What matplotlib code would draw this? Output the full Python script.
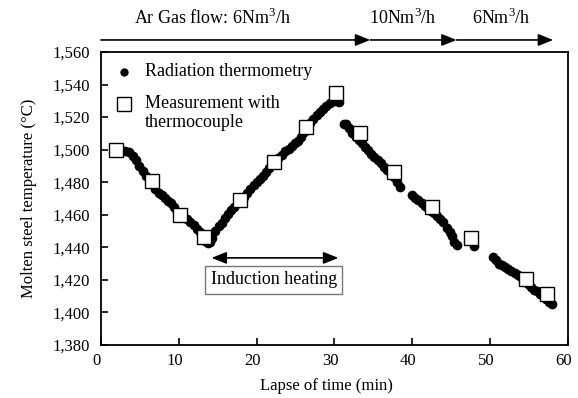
import matplotlib
matplotlib.use("Agg")
import matplotlib.pyplot as plt
from matplotlib.ticker import FuncFormatter
from matplotlib.transforms import ScaledTranslation

plt.rcParams['font.family'] = ['Liberation Serif', 'DejaVu Serif']
plt.rcParams['mathtext.fontset'] = 'custom'
plt.rcParams['mathtext.rm'] = 'Liberation Serif'
plt.rcParams['font.size'] = 12

# radiation thermometry (min, degC)
rad_time = [2.6, 3.1, 3.6, 4.1, 4.5, 4.9, 5.4, 5.8, 6.2, 6.6, 7.0, 7.4, 7.8, 8.2,
            8.6, 9.0, 9.4, 9.8, 10.2, 10.6, 11.0, 11.5, 11.9, 12.3, 12.7, 13.1,
            13.4, 13.7,
            14.0, 14.3, 14.7, 15.1, 15.5, 15.9, 16.3, 16.7, 17.1, 17.6, 18.0, 18.4,
            18.8, 19.2, 19.6, 20.0, 20.4, 20.8, 21.2, 21.6, 22.0, 22.4, 22.8, 23.3,
            23.7, 24.1, 24.5, 24.9, 25.3, 25.7, 26.1, 26.5, 26.9, 27.3, 27.7, 28.1,
            28.5, 28.9, 29.4, 29.8, 30.2, 30.6,
            31.2, 31.5, 31.9, 32.3, 32.7, 33.1, 33.5, 33.9, 34.3, 34.7, 35.1, 35.6,
            36.0, 36.4, 36.8, 37.2, 37.6, 38.0, 38.4,
            39.9, 40.3, 40.7, 41.2, 41.6, 42.0, 42.4, 42.8, 43.2, 43.6, 44.0, 44.4,
            44.8, 45.1, 45.4, 45.7, 47.9,
            50.4, 50.7, 51.1, 51.5, 51.9, 52.3, 52.7, 53.2, 53.6, 54.0, 54.4, 54.8,
            55.2, 55.6, 56.0, 56.4, 56.8, 57.2, 57.6, 58.0]
rad_temp = [1499, 1499, 1498.5, 1496, 1493.5, 1490, 1487, 1484, 1482, 1479, 1476,
            1473.5, 1472, 1470, 1468.5, 1467, 1465, 1462, 1460, 1459, 1457.5, 1455.5,
            1453.5, 1451.5, 1449.5, 1447, 1444, 1442.5,
            1443, 1446, 1450, 1453, 1455, 1458, 1460.5, 1463, 1465, 1467, 1469, 1471,
            1473.5, 1476, 1478, 1480, 1482, 1484, 1486, 1488.5, 1491, 1493, 1495,
            1497, 1499, 1500.5, 1502, 1504, 1505.5, 1508, 1511, 1514, 1516.5, 1519,
            1521, 1523, 1525, 1527, 1528.5, 1530, 1530, 1529,
            1516, 1515.5, 1513, 1510.5, 1508, 1506, 1504, 1501.5, 1499.5, 1497.5,
            1495.5, 1493.5, 1491.5, 1489.5, 1487.5, 1485.5, 1483, 1480, 1477,
            1472, 1470.5, 1469, 1467, 1465.5, 1464, 1462.5, 1461, 1459.5, 1457.5,
            1455.5, 1452, 1449.5, 1447, 1443.5, 1441.5, 1441,
            1434, 1432, 1430, 1429, 1428, 1426.5, 1425.5, 1424.5, 1423, 1421.5,
            1419.5, 1417.5, 1415.5, 1414, 1413, 1411.5, 1410, 1408.5, 1406.5, 1405]

# thermocouple measurements
tc_time = [1.9, 6.5, 10.1, 13.2, 17.9, 22.2, 26.3, 30.2, 33.3, 37.6, 42.5, 47.5, 54.6, 57.3]
tc_temp = [1500, 1481, 1460, 1446.5, 1469, 1492.5, 1514, 1535, 1510, 1486, 1465, 1446, 1420.5, 1411.5]

# gas flow phases
flow_end = [34.6, 45.7, 58.1]
flow_labels = ['Ar Gas flow: 6Nm$^3$/h', '10Nm$^3$/h', '6Nm$^3$/h']
flow_label_x = [14.3, 38.8, 51.4]

heat_start, heat_end = 14.2, 30.5

fig = plt.figure(figsize=(5.78, 3.98), dpi=100)
ax = fig.add_axes([0.1747, 0.1332, 0.808, 0.7362])

ax.plot(rad_time, rad_temp, 'o', color='black', markersize=7, markeredgewidth=0, zorder=2)
ax.plot(tc_time, tc_temp, 's', markerfacecolor='white', markeredgecolor='black',
        markersize=9.5, markeredgewidth=1.0, zorder=3)

ax.set_xlim(0, 60)
ax.set_ylim(1380, 1560)
ax.set_xticks(range(0, 61, 10))
ax.set_yticks(range(1380, 1561, 20))
ax.yaxis.set_major_formatter(FuncFormatter(lambda v, p: f'{int(v):,}'))
ax.tick_params(direction='in', length=5, width=1.2, labelsize=12)
ax.tick_params(axis='y', pad=8)
ax.tick_params(axis='x', pad=6)
for s in ax.spines.values():
    s.set_linewidth(1.3)
# x tick labels sit a little left of their ticks in the original
shift = ScaledTranslation(-4 / 100, 0, fig.dpi_scale_trans)
for lbl in ax.get_xticklabels():
    lbl.set_transform(lbl.get_transform() + shift)

ax.set_xlabel('Lapse of time (min)', fontsize=12, labelpad=6)
ax.xaxis.label.set_x(0.483)
ax.set_ylabel('Molten steel temperature (°C)', fontsize=12, labelpad=11)

# legend drawn by hand so the square sits on the first line
ax.plot([0.049], [0.932], 'o', color='black', markersize=5, transform=ax.transAxes, clip_on=False)
ax.text(0.094, 0.932, 'Radiation thermometry', transform=ax.transAxes, va='center', fontsize=13)
ax.plot([0.049], [0.8225], 's', markerfacecolor='white', markeredgecolor='black',
        markersize=9.5, transform=ax.transAxes, clip_on=False)
ax.text(0.094, 0.8225, 'Measurement with', transform=ax.transAxes, va='center', fontsize=13)
ax.text(0.094, 0.758, 'thermocouple', transform=ax.transAxes, va='center', fontsize=13)

# gas flow arrows on top
start = 0
for end, lab, lx in zip(flow_end, flow_labels, flow_label_x):
    ax.annotate('', xy=(end, 1.041), xytext=(start, 1.041),
                xycoords=('data', 'axes fraction'), textcoords=('data', 'axes fraction'),
                arrowprops=dict(arrowstyle='-|>,head_length=0.5,head_width=0.2',
                                color='black', lw=1.2, mutation_scale=18,
                                shrinkA=0, shrinkB=0),
                annotation_clip=False)
    ax.text(lx, 1.116, lab, transform=ax.get_xaxis_transform(), ha='center', va='center', fontsize=13)
    start = end

# induction heating
ax.annotate('', xy=(heat_end, 1433.5), xytext=(heat_start, 1433.5),
            arrowprops=dict(arrowstyle='<|-|>,head_length=0.5,head_width=0.2',
                            color='black', lw=1.2, mutation_scale=18,
                            shrinkA=0, shrinkB=0))
ax.text(22.2, 1420, 'Induction heating', ha='center', va='center', fontsize=13,
        bbox=dict(boxstyle='square,pad=0.3', fc='white', ec='#777777', lw=1))

fig.savefig('out.png', dpi=100)
